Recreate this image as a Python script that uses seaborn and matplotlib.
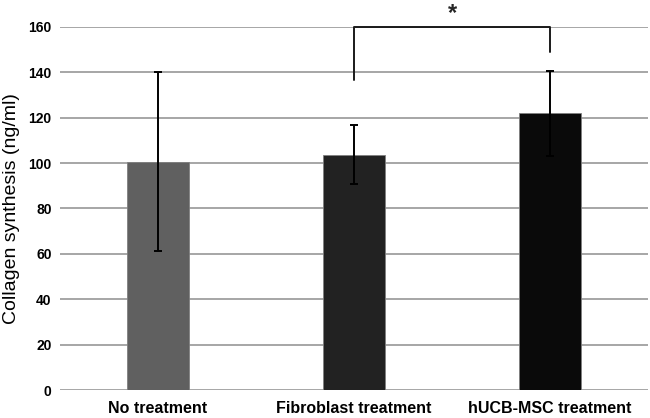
import matplotlib
matplotlib.use("Agg")
import matplotlib.pyplot as plt
import seaborn as sns
import pandas as pd

categories = ["No treatment", "Fibroblast treatment", "hUCB-MSC treatment"]
means = [100.7, 103.8, 122.0]
errors = [39.6, 13.2, 18.8]
bar_colors = ["#606060", "#222222", "#0a0a0a"]
yticks = [0, 20, 40, 60, 80, 100, 120, 140, 160]
bracket_pair = ["Fibroblast treatment", "hUCB-MSC treatment"]
bracket_legs = [136.7, 149.2]
bracket_top = 160.0
sig_label = "*"

sns.set_theme(style="white")
plt.rcParams["font.family"] = ["Liberation Sans", "DejaVu Sans"]

df = pd.DataFrame({"group": categories, "value": means})

fig = plt.figure(figsize=(6.5, 4.18), dpi=100)
ax = fig.add_axes([60 / 650, 1 - 390 / 418, 588 / 650, 363 / 418])

sns.barplot(data=df, x="group", y="value", hue="group", palette=bar_colors,
            order=categories, hue_order=categories, legend=False,
            errorbar=None, width=0.32, edgecolor="#808080", linewidth=0.6,
            ax=ax, zorder=2)

ax.errorbar(categories, means, yerr=errors, fmt="none", ecolor="black",
            elinewidth=1.4, capsize=2.6, capthick=1.4, zorder=3)

ax.set_ylim(0, 160)
ax.set_xlim(-0.5, 2.5)
ax.set_yticks(yticks)
ax.yaxis.grid(True, color="#a6a6a6", linewidth=1.4, zorder=0)
ax.set_axisbelow(True)
for s in ax.spines.values():
    s.set_visible(False)
ax.tick_params(axis="both", length=0, colors="black")
ax.tick_params(axis="y", pad=6, labelsize=10)
ax.tick_params(axis="x", pad=8, labelsize=11.5)
for lab in ax.get_xticklabels() + ax.get_yticklabels():
    lab.set_fontweight("bold")
ax.set_xlabel("")
ax.set_ylabel("Collagen synthesis (ng/ml)", fontsize=14, labelpad=6, color="black")

# significance bracket
ax.plot([bracket_pair[0], bracket_pair[0], bracket_pair[1], bracket_pair[1]],
        [bracket_legs[0], bracket_top, bracket_top, bracket_legs[1]],
        color="#1a1a1a", linewidth=1.4, clip_on=False, zorder=4)
ax.text(1.5, bracket_top + 1.0, sig_label, ha="center", va="bottom",
        fontsize=17, fontweight="bold", clip_on=False)

fig.savefig("out.png", dpi=100)
